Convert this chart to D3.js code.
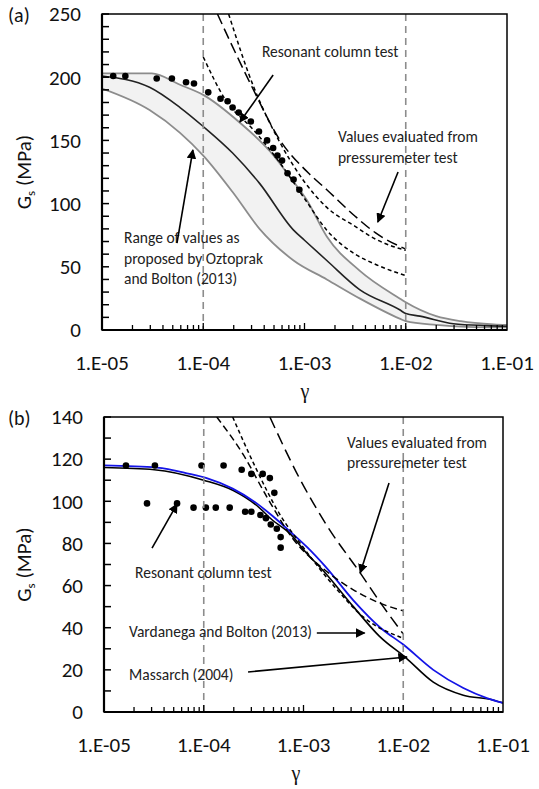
<!DOCTYPE html>
<html>
<head>
<meta charset="utf-8">
<script src="https://cdn.jsdelivr.net/npm/d3@7"></script>
<style>
  body { margin: 0; background: #fff; }
  text { font-family: Carlito, Lato, "Open Sans", sans-serif; fill: #111; }
  .note { font-size: 15.5px; fill: #222; }
</style>
</head>
<body>
<script>
// x axis ticks (strain, log scale)
const gammaTicks = [1e-5, 1e-4, 1e-3, 1e-2, 1e-1];

// ---- panel (a) ----
// band proposed by Oztoprak and Bolton (2013): upper, mean, lower
const bandUpperA = [[1e-5,203],[3.1e-5,203],[5.9e-5,194],[1e-4,186],[2.3e-4,164],[4.6e-4,141],[7.2e-4,121],[1.05e-3,103],[1.66e-3,74],[3.5e-3,47],[8.7e-3,25],[1e-2,22],[2e-2,11],[3.5e-2,7],[7.4e-2,4.5],[1e-1,4]];
const bandMidA = [[1e-5,201],[2.95e-5,192],[5.9e-5,176],[1e-4,161],[1.95e-4,140],[3.6e-4,116],[7.8e-4,79],[1e-3,71],[1.66e-3,55],[3.5e-3,32],[8.7e-3,16],[1e-2,13],[1.38e-2,11],[2.95e-2,5],[6.3e-2,3.5],[1e-1,3]];
const bandLowA = [[1e-5,191],[2.95e-5,174],[5.9e-5,156],[1e-4,138],[2e-4,108],[3.6e-4,80],[7.8e-4,55],[1.66e-3,40],[3.5e-3,25],[8.7e-3,9],[1e-2,7],[2e-2,4],[4e-2,2.5],[1e-1,2]];
// resonant column test
const resonantA = [[1.29e-5,201],[1.7e-5,201],[3.47e-5,199],[4.9e-5,199],[6.76e-5,196],[8.1e-5,195],[1.12e-4,188],[1.48e-4,183],[1.74e-4,181],[1.95e-4,176],[2.24e-4,172],[2.95e-4,165],[3.55e-4,157],[4.27e-4,150],[4.9e-4,144],[5.4e-4,138],[6.0e-4,134],[6.8e-4,124],[7.8e-4,119],[8.9e-4,111]];
// pressuremeter test curves
const pmt1A = [[1.38e-4,250],[3.0e-4,193],[5.75e-4,150],[1.1e-3,124],[1.66e-3,111],[3.16e-3,90],[5e-3,77],[1e-2,64]];
const pmt2A = [[1.78e-4,250],[3.16e-4,192],[5.75e-4,148],[1.66e-3,97],[3.16e-3,82],[5e-3,72],[1e-2,63]];
const pmt3A = [[1e-4,216],[1.66e-4,182],[3.16e-4,158],[5.75e-4,132],[1e-3,104],[1.66e-3,79],[3.16e-3,60],[5e-3,52],[1e-2,43]];

// ---- panel (b) ----
const blueB = [[1e-5,117],[3.4e-5,116],[7.2e-5,113],[1.07e-4,111],[1.95e-4,106],[3.4e-4,99],[4.9e-4,93],[7.2e-4,86],[1.1e-3,78],[1.66e-3,69],[3.16e-3,53],[5.9e-3,40],[1e-2,32],[2e-2,20],[4e-2,11.4],[6.9e-2,6.6],[1e-1,4.3]];
const blackB = [[1e-5,116],[3.2e-5,115],[1e-4,110],[2e-4,105],[3.4e-4,98],[4.9e-4,91],[7.2e-4,85],[1.07e-3,75.5],[1.58e-3,67],[3.16e-3,50],[5.75e-3,36],[1.07e-2,25.6],[2e-2,14.2],[4e-2,8],[7.9e-2,5.7],[1e-1,4.3]];
const resonantB = [[1.66e-5,117],[3.24e-5,117],[9.5e-5,117],[1.58e-4,117],[2.4e-4,115],[3.0e-4,113],[3.9e-4,113],[4.6e-4,111],[5.1e-4,104],
  [2.7e-5,99],[5.4e-5,99],[7.9e-5,97],[1.05e-4,97],[1.32e-4,97],[1.82e-4,97],[2.6e-4,95],[3.0e-4,95],[3.7e-4,93.5],[4.2e-4,92],[4.7e-4,89],[5.4e-4,87],[5.9e-4,83],[5.9e-4,78]];
const pmt1B = [[1.35e-4,140],[2.5e-4,122],[4.3e-4,102],[7.9e-4,82],[1.58e-3,68],[3.16e-3,58],[5.6e-3,52],[1e-2,48]];
const pmt2B = [[1.95e-4,140],[3.16e-4,118],[5.75e-4,94],[1e-3,78],[2e-3,60],[4e-3,45],[1e-2,35]];
const pmt3B = [[4.6e-4,140],[9.1e-4,111],[1.74e-3,88],[3.7e-3,66],[6.3e-3,50],[1e-2,37]];

const svg = d3.select("body").append("svg")
  .attr("width", 539)
  .attr("height", 789);

const defs = svg.append("defs");
defs.append("marker")
  .attr("id", "arrow")
  .attr("viewBox", "0 0 10 10")
  .attr("refX", 9).attr("refY", 5)
  .attr("markerWidth", 6).attr("markerHeight", 6)
  .attr("orient", "auto")
  .append("path")
    .attr("d", "M0,0 L10,5 L0,10 z")
    .attr("fill", "#000");

function tickLabel(v) {
  const e = Math.round(Math.log10(v));
  return "1.E" + (e < 0 ? "-" : "+") + String(Math.abs(e)).padStart(2, "0");
}

function drawPanel(p) {
  const x = d3.scaleLog().domain([1e-5, 1e-1]).range([p.left, p.right]);
  const y = d3.scaleLinear().domain([0, p.yMax]).range([p.bottom, p.top]);
  const g = svg.append("g");

  defs.append("clipPath").attr("id", "clip" + p.id)
    .append("rect")
      .attr("x", p.left).attr("y", p.top)
      .attr("width", p.right - p.left).attr("height", p.bottom - p.top);

  const line = d3.line().x(d => x(d[0])).y(d => y(d[1])).curve(d3.curveMonotoneX);
  const plot = g.append("g").attr("clip-path", `url(#clip${p.id})`);

  // band fill
  if (p.band) {
    const area = d3.area()
      .x(d => x(d[0]))
      .y0(d => y(d[2]))
      .y1(d => y(d[1]))
      .curve(d3.curveMonotoneX);
    const lowAt = d3.scaleLog().domain(p.band.low.map(d => d[0])).range(p.band.low.map(d => d[1]));
    const merged = p.band.upper.map(d => [d[0], d[1], lowAt(d[0])]);
    plot.append("path").datum(merged)
      .attr("d", area)
      .attr("fill", "#f2f2f2");
  }

  // vertical reference lines
  [1e-4, 1e-2].forEach(v => {
    g.append("line")
      .attr("x1", x(v)).attr("x2", x(v))
      .attr("y1", p.top).attr("y2", p.bottom)
      .attr("stroke", "#8c8c8c")
      .attr("stroke-width", 1.6)
      .attr("stroke-dasharray", "7,5");
  });

  p.lines.forEach(l => {
    plot.append("path").datum(l.data)
      .attr("d", line)
      .attr("fill", "none")
      .attr("stroke", l.color)
      .attr("stroke-width", l.width)
      .attr("stroke-dasharray", l.dash || null);
  });

  plot.selectAll("circle.dot").data(p.dots).enter().append("circle")
    .attr("class", "dot")
    .attr("cx", d => x(d[0]))
    .attr("cy", d => y(d[1]))
    .attr("r", 3.3)
    .attr("fill", "#000");

  // frame
  g.append("rect")
    .attr("x", p.left).attr("y", p.top)
    .attr("width", p.right - p.left).attr("height", p.bottom - p.top)
    .attr("fill", "none").attr("stroke", "#000").attr("stroke-width", 1.5);
  g.append("line").attr("x1", p.left).attr("x2", p.left).attr("y1", p.top).attr("y2", p.bottom)
    .attr("stroke", "#000").attr("stroke-width", 2.2);
  g.append("line").attr("x1", p.left).attr("x2", p.right).attr("y1", p.bottom).attr("y2", p.bottom)
    .attr("stroke", "#000").attr("stroke-width", 2.2);

  // y ticks (inside)
  y.ticks(p.yMax / 10).forEach(v => {
    if (v === 0) return;
    g.append("line")
      .attr("x1", p.left).attr("x2", p.left + 7)
      .attr("y1", y(v)).attr("y2", y(v))
      .attr("stroke", "#000").attr("stroke-width", 1.5);
  });
  y.ticks(p.yMax / p.yStep).forEach(v => {
    g.append("text")
      .attr("x", p.left - 21).attr("y", y(v))
      .attr("dy", "0.35em")
      .attr("text-anchor", "end")
      .style("font-size", "21px")
      .text(v);
  });

  // x ticks (inside)
  x.ticks().forEach(v => {
    const major = Math.abs(Math.log10(v) - Math.round(Math.log10(v))) < 1e-6;
    if (v <= 1e-5 || v >= 1e-1) return;
    g.append("line")
      .attr("x1", x(v)).attr("x2", x(v))
      .attr("y1", p.bottom).attr("y2", p.bottom - (major ? 7 : 5))
      .attr("stroke", "#000").attr("stroke-width", 1.3);
  });
  gammaTicks.forEach(v => {
    g.append("text")
      .attr("x", x(v)).attr("y", p.bottom + 33)
      .attr("dy", "0.35em")
      .attr("text-anchor", "middle")
      .style("font-size", "21px")
      .text(tickLabel(v));
  });

  // axis titles
  const yl = g.append("text")
    .attr("transform", `translate(31,${(p.top + p.bottom) / 2}) rotate(-90)`)
    .attr("text-anchor", "middle")
    .style("font-size", "21px");
  yl.append("tspan").text("G");
  yl.append("tspan").attr("dy", 4).style("font-size", "13px").text("s");
  yl.append("tspan").attr("dy", -4).text(" (MPa)");

  g.append("text")
    .attr("x", p.gammaX).attr("y", p.bottom + 68)
    .attr("text-anchor", "middle")
    .style("font-family", "'Liberation Serif', 'DejaVu Serif', serif")
    .style("font-size", "20px")
    .text("γ");

  g.append("text")
    .attr("x", 8).attr("y", p.top + 1)
    .attr("dy", "0.35em")
    .style("font-size", "20px")
    .text(p.tag);

  // annotations
  p.notes.forEach(n => {
    const t = g.append("text").attr("class", "note");
    n.text.forEach((s, i) => {
      t.append("tspan")
        .attr("x", x(n.at[0]))
        .attr("y", y(n.at[1]) + i * 20.5)
        .attr("dy", "0.35em")
        .text(s);
    });
  });
  p.arrows.forEach(a => {
    g.append("line")
      .attr("x1", x(a[0][0])).attr("y1", y(a[0][1]))
      .attr("x2", x(a[1][0])).attr("y2", y(a[1][1]))
      .attr("stroke", "#000").attr("stroke-width", 1.6)
      .attr("marker-end", "url(#arrow)");
  });
}

drawPanel({
  id: "a", tag: "(a)",
  left: 102, right: 507, top: 14, bottom: 330,
  yMax: 250, yStep: 50, gammaX: 305,
  band: { upper: bandUpperA, low: bandLowA },
  lines: [
    { data: bandUpperA, color: "#8c8c8c", width: 1.8 },
    { data: bandLowA, color: "#8c8c8c", width: 1.8 },
    { data: bandMidA, color: "#222", width: 1.6 },
    { data: pmt1A, color: "#000", width: 1.5, dash: "11,5" },
    { data: pmt2A, color: "#000", width: 1.5, dash: "4,3" },
    { data: pmt3A, color: "#000", width: 1.5, dash: "4,3" }
  ],
  dots: resonantA,
  notes: [
    { at: [3.8e-4, 220], text: ["Resonant column test"] },
    { at: [2.14e-3, 152.7], text: ["Values evaluated from", "pressuremeter test"] },
    { at: [1.65e-5, 72.8], text: ["Range of values as", "proposed by Oztoprak", "and Bolton (2013)"] }
  ],
  arrows: [
    [[4.9e-4, 201.7], [2.3e-4, 164.5]],
    [[8.4e-3, 125], [5.3e-3, 85.4]],
    [[5.5e-5, 68.8], [7.9e-5, 142.4]]
  ]
});

drawPanel({
  id: "b", tag: "(b)",
  left: 104, right: 503, top: 417, bottom: 712,
  yMax: 140, yStep: 20, gammaX: 296,
  lines: [
    { data: blackB, color: "#000", width: 1.6 },
    { data: blueB, color: "#1414e6", width: 1.8 },
    { data: pmt1B, color: "#000", width: 1.5, dash: "7,4" },
    { data: pmt2B, color: "#000", width: 1.5, dash: "4,3" },
    { data: pmt3B, color: "#000", width: 1.5, dash: "12,6" }
  ],
  dots: resonantB,
  notes: [
    { at: [2.73e-3, 128.1], text: ["Values evaluated from", "pressuremeter test"] },
    { at: [2.05e-5, 66], text: ["Resonant column test"] },
    { at: [1.78e-5, 38], text: ["Vardanega and Bolton (2013)"] },
    { at: [1.78e-5, 17.6], text: ["Massarch (2004)"] }
  ],
  arrows: [
    [[3.03e-5, 77.8], [5.4e-5, 98.7]],
    [[7.2e-3, 108.7], [3.7e-3, 66]],
    [[1.36e-3, 37.5], [4.1e-3, 37.5]],
    [[2.78e-4, 19], [1.09e-2, 26.1]]
  ]
});
</script>
</body>
</html>
